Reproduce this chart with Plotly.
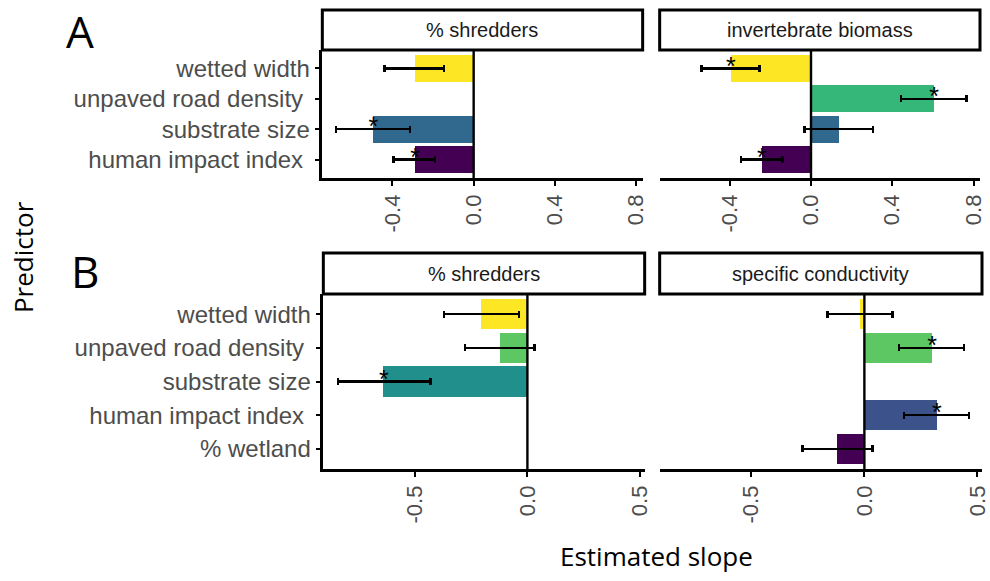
import plotly.graph_objects as go

W, H = 990, 581
WX = 981.0  # effective horizontal pixel scale observed in rendering

# ---------------- data ----------------
cats_A = ["wetted width", "unpaved road density\u00a0", "substrate size", "human impact index\u00a0"]
colors_A = ["#FDE725", "#35B779", "#31688E", "#440154"]

shred_A_est = [-0.288, None, -0.494, -0.288]
shred_A_lo = [-0.440, None, -0.677, -0.394]
shred_A_hi = [-0.145, None, -0.313, -0.190]
shred_A_sig = [False, False, True, True]

biom_est = [-0.394, 0.606, 0.137, -0.242]
biom_lo = [-0.538, 0.443, -0.033, -0.344]
biom_hi = [-0.253, 0.766, 0.305, -0.140]
biom_sig = [True, True, False, True]

cats_B = ["wetted width", "unpaved road density\u00a0", "substrate size", "human impact index\u00a0", "% wetland"]
colors_B = ["#FDE725", "#5DC863", "#21908C", "#3B528B", "#440154"]

shred_B_est = [-0.203, -0.122, -0.637, None, None]
shred_B_lo = [-0.370, -0.277, -0.840, None, None]
shred_B_hi = [-0.037, 0.031, -0.430, None, None]
shred_B_sig = [False, False, True, False, False]

cond_est = [-0.019, 0.299, None, 0.321, -0.123]
cond_lo = [-0.164, 0.154, None, 0.176, -0.274]
cond_hi = [0.124, 0.440, None, 0.462, 0.036]
cond_sig = [False, True, False, True, False]

ticks_A = [-0.4, 0.0, 0.4, 0.8]
ticks_B = [-0.5, 0.0, 0.5]
range_A = [-0.745, 0.832]
range_B = [-0.905, 0.52]

# ---------------- layout geometry (pixels) ----------------
def px_x(a, b):
    return [a / WX, b / WX]

def px_y(top, bottom):
    return [1 - bottom / H, 1 - top / H]

def fmt(v):
    return "%.1f" % v  # plain hyphen-minus as in the reference

panels = [
    dict(name="% shredders", cats=cats_A, colors=colors_A, est=shred_A_est, lo=shred_A_lo, hi=shred_A_hi,
         sig=shred_A_sig, xd=px_x(322, 642), yd=px_y(50, 178), ticks=ticks_A, rng=range_A, showy=True,
         strip=(10, 50)),
    dict(name="invertebrate biomass", cats=cats_A, colors=colors_A, est=biom_est, lo=biom_lo, hi=biom_hi,
         sig=biom_sig, xd=px_x(659, 979), yd=px_y(50, 178), ticks=ticks_A, rng=range_A, showy=False,
         strip=(10, 50)),
    dict(name="% shredders", cats=cats_B, colors=colors_B, est=shred_B_est, lo=shred_B_lo, hi=shred_B_hi,
         sig=shred_B_sig, xd=px_x(323, 644), yd=px_y(294, 469), ticks=ticks_B, rng=range_B, showy=True,
         strip=(253, 294)),
    dict(name="specific conductivity", cats=cats_B, colors=colors_B, est=cond_est, lo=cond_lo, hi=cond_hi,
         sig=cond_sig, xd=px_x(659, 981), yd=px_y(294, 469), ticks=ticks_B, rng=range_B, showy=False,
         strip=(253, 294)),
]

SANS = "Liberation Sans, Arial, sans-serif"
TICKFONT = dict(family=SANS, size=22, color="#4D4D4D")
YFONT = dict(family=SANS, size=24, color="#4D4D4D")

fig = go.Figure()
shapes = []
annotations = []

for i, p in enumerate(panels, start=1):
    xa = "x" if i == 1 else f"x{i}"
    ya = "y" if i == 1 else f"y{i}"
    n = len(p["cats"])
    idx = [k for k in range(n) if p["est"][k] is not None]
    fig.add_trace(go.Bar(
        x=[p["est"][k] for k in idx], y=idx, orientation="h", width=0.9,
        marker=dict(color=[p["colors"][k] for k in idx], line=dict(width=0)),
        error_x=dict(type="data", symmetric=False,
                     array=[p["hi"][k] - p["est"][k] for k in idx],
                     arrayminus=[p["est"][k] - p["lo"][k] for k in idx],
                     color="black", thickness=2.5, width=3.5),
        xaxis=xa, yaxis=ya, showlegend=False, hoverinfo="skip",
    ))
    sidx = [k for k in idx if p["sig"][k]]
    if sidx:
        fig.add_trace(go.Scatter(
            x=[p["est"][k] for k in sidx], y=sidx, mode="text", text=["*"] * len(sidx),
            textposition="middle center",
            textfont=dict(family=SANS, size=25, color="black"),
            xaxis=xa, yaxis=ya, showlegend=False, hoverinfo="skip",
        ))
    # zero line
    shapes.append(dict(type="line", xref=xa, yref=f"{ya} domain", x0=0, x1=0, y0=0, y1=1,
                       line=dict(color="black", width=2.4), layer="above"))
    # strip box
    top, bot = p["strip"]
    shapes.append(dict(type="rect", xref=f"{xa} domain", yref="paper", x0=0, x1=1,
                       y0=1 - bot / H, y1=1 - top / H,
                       line=dict(color="black", width=3), fillcolor="white", layer="above"))
    annotations.append(dict(text=p["name"], xref=f"{xa} domain", yref="paper", x=0.5,
                            y=1 - (top + bot) / 2 / H, showarrow=False, xanchor="center", yanchor="middle",
                            font=dict(family=SANS, size=20, color="#1A1A1A")))

    xkey = "xaxis" if i == 1 else f"xaxis{i}"
    ykey = "yaxis" if i == 1 else f"yaxis{i}"
    fig.layout[xkey] = dict(
        domain=p["xd"], anchor=ya, range=p["rng"], tickvals=p["ticks"],
        ticktext=[fmt(v) for v in p["ticks"]],
        tickangle=-90, ticks="outside", ticklen=5, tickwidth=2.2, tickcolor="black",
        showline=True, linecolor="black", linewidth=2.5, showgrid=False, zeroline=False,
        tickfont=TICKFONT, fixedrange=True,
    )
    fig.layout[ykey] = dict(
        domain=p["yd"], anchor=xa, range=[n - 1 + 0.6, -0.6], tickvals=list(range(n)),
        ticktext=p["cats"], showticklabels=p["showy"], ticks="outside" if p["showy"] else "",
        ticklen=5, tickwidth=2.2, tickcolor="black",
        showline=p["showy"], linecolor="black", linewidth=2.5, showgrid=False, zeroline=False,
        tickfont=YFONT, fixedrange=True,
    )

# panel letters and axis titles
BIG = "Open Sans, Lato, sans-serif"
annotations.append(dict(text="A", xref="paper", yref="paper", x=80 / WX, y=1, showarrow=False,
                        xanchor="center", yanchor="top", borderpad=0,
                        font=dict(family=BIG, size=44, color="black")))
annotations.append(dict(text="B", xref="paper", yref="paper", x=85 / WX, y=1 - 271 / H, showarrow=False,
                        xanchor="center", yanchor="middle", font=dict(family=BIG, size=44, color="black")))
annotations.append(dict(text="Predictor", xref="paper", yref="paper", x=23 / WX, y=1 - 257 / H, showarrow=False,
                        textangle=-90, xanchor="center", yanchor="middle",
                        font=dict(family=BIG, size=26, color="black")))
annotations.append(dict(text="Estimated slope", xref="paper", yref="paper", x=656 / WX, y=1 - 556 / H,
                        showarrow=False, xanchor="center", yanchor="middle",
                        font=dict(family=BIG, size=26, color="black")))

fig.update_layout(
    width=W, height=H, margin=dict(l=0, r=0, t=0, b=0),
    paper_bgcolor="white", plot_bgcolor="white",
    shapes=shapes, annotations=annotations, bargap=0, showlegend=False,
)

fig.write_html("out.html", config={"displayModeBar": False})
